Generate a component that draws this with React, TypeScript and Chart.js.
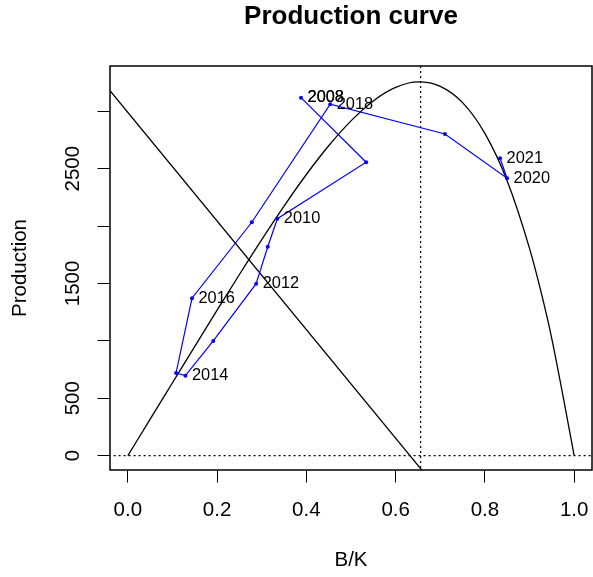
import React, { useEffect, useRef } from "react";
import { Chart, registerables } from "chart.js";

Chart.register(...registerables);

// ---- data ----
const years = [2008, 2009, 2010, 2011, 2012, 2013, 2014, 2015, 2016, 2017, 2018, 2019, 2020, 2021];
const bkValues = [0.388, 0.534, 0.335, 0.3135, 0.2875, 0.1914, 0.129, 0.108, 0.1437, 0.2777, 0.4535, 0.7105, 0.8497, 0.834];
const prodValues = [3118, 2556, 2064, 1820, 1498, 999, 697, 720, 1371, 2033, 3061, 2802, 2416, 2591];

const curveBK = [0, 0.05, 0.1, 0.15, 0.2, 0.25, 0.3, 0.35, 0.4, 0.45, 0.5, 0.55, 0.6, 0.65, 0.7, 0.75, 0.8, 0.85, 0.9, 0.925, 0.95, 0.975, 1.0];
const curveProd = [0, 318, 635, 952, 1267, 1578, 1882, 2174, 2449, 2699, 2916, 3090, 3207, 3255, 3217, 3075, 2807, 2393, 1806, 1439, 1018, 520, 0];

const refLineBK = [-0.04, 0.7];
const refLineProd = [3179, -321];

const bmsyBK = 0.656;

const xTicks = [0, 0.2, 0.4, 0.6, 0.8, 1.0];
const yTicks = [0, 500, 1000, 1500, 2000, 2500, 3000];
const yTickLabels = [0, 500, 1500, 2500];

const FONT = "'Liberation Sans', Arial, Helvetica, sans-serif";
const BASE = 20.5;

export default function App() {
  const ref = useRef<HTMLCanvasElement | null>(null);

  useEffect(() => {
    const canvas = ref.current;
    if (!canvas) return;

    const pts = bkValues.map((x, i) => ({ x, y: prodValues[i] }));
    const curve = curveBK.map((x, i) => ({ x, y: curveProd[i] }));
    const refLine = refLineBK.map((x, i) => ({ x, y: refLineProd[i] }));
    const hLine = [{ x: -0.2, y: 0 }, { x: 1.2, y: 0 }];
    const vLine = [{ x: bmsyBK, y: -500 }, { x: bmsyBK, y: 4000 }];

    const n = years.length;
    const labelIdx: number[] = [0];
    for (let i = 0; i < n; i += 2) labelIdx.push(i);
    labelIdx.push(n - 1);

    const framePlugin = {
      id: "frame",
      afterDatasetsDraw(chart: any) {
        const { ctx, chartArea } = chart;
        ctx.save();
        ctx.strokeStyle = "#000";
        ctx.lineWidth = 1.5;
        ctx.strokeRect(chartArea.left, chartArea.top, chartArea.right - chartArea.left, chartArea.bottom - chartArea.top);
        ctx.restore();
      },
    };

    const yearLabelPlugin = {
      id: "yearLabels",
      afterDatasetsDraw(chart: any) {
        const meta = chart.getDatasetMeta(0);
        const ctx = chart.ctx;
        ctx.save();
        ctx.font = `${BASE * 0.8}px ${FONT}`;
        ctx.fillStyle = "#000";
        ctx.textAlign = "left";
        ctx.textBaseline = "middle";
        labelIdx.forEach((i) => {
          const el = meta.data[i];
          if (!el) return;
          ctx.fillText(String(years[i]), el.x + 6.5, el.y);
        });
        ctx.restore();
      },
    };

    const chart = new Chart(canvas, {
      type: "scatter",
      data: {
        datasets: [
          {
            data: pts,
            showLine: true,
            borderColor: "#0000ff",
            borderWidth: 1.2,
            pointRadius: 2,
            pointBackgroundColor: "#0000ff",
            pointBorderColor: "#0000ff",
            pointBorderWidth: 0,
            clip: 0,
          },
          {
            data: curve,
            showLine: true,
            borderColor: "#000",
            borderWidth: 1.3,
            pointRadius: 0,
            cubicInterpolationMode: "monotone",
            clip: 0,
          },
          {
            data: refLine,
            showLine: true,
            borderColor: "#000",
            borderWidth: 1.3,
            pointRadius: 0,
            clip: 0,
          },
          {
            data: hLine,
            showLine: true,
            borderColor: "#000",
            borderWidth: 1.2,
            borderDash: [2, 3],
            pointRadius: 0,
            clip: 0,
          },
          {
            data: vLine,
            showLine: true,
            borderColor: "#000",
            borderWidth: 1.2,
            borderDash: [2, 3],
            pointRadius: 0,
            clip: 0,
          },
        ] as any,
      },
      options: {
        animation: false,
        responsive: false,
        devicePixelRatio: 1,
        events: [],
        layout: { autoPadding: false, padding: { left: 0, right: 1, top: 0, bottom: 0 } },
        plugins: {
          legend: { display: false },
          tooltip: { enabled: false },
          title: {
            display: true,
            text: "Production curve",
            fullSize: false,
            color: "#000",
            font: { family: FONT, size: 26, weight: "bold" },
            padding: { top: 1.5, bottom: 33.3 },
          },
        },
        scales: {
          x: {
            type: "linear",
            position: "bottom",
            min: -0.04,
            max: 1.04,
            afterBuildTicks: (s: any) => {
              s.ticks = xTicks.map((v) => ({ value: v }));
            },
            afterFit: (s: any) => {
              s.height = 107;
              s.paddingLeft = 0;
              s.paddingRight = 0;
            },
            ticks: {
              color: "#000",
              font: { family: FONT, size: BASE, lineHeight: 2.761 },
              padding: 0,
              maxRotation: 0,
              minRotation: 0,
              callback: (v: any) => Number(v).toFixed(1),
            },
            grid: {
              display: true,
              drawOnChartArea: false,
              drawTicks: true,
              tickLength: 12.5,
              color: "#000",
              lineWidth: 1,
            },
            border: { display: false },
            title: {
              display: true,
              text: "B/K",
              color: "#000",
              font: { family: FONT, size: BASE },
              padding: { top: 0, bottom: 4.2 },
            },
          },
          y: {
            type: "linear",
            position: "left",
            min: -125,
            max: 3394,
            afterBuildTicks: (s: any) => {
              s.ticks = yTicks.map((v) => ({ value: v }));
            },
            afterFit: (s: any) => {
              s.width = 110;
              s.paddingTop = 0;
              s.paddingBottom = 0;
            },
            ticks: {
              autoSkip: false,
              color: "#000",
              font: { family: FONT, size: BASE },
              padding: 1,
              minRotation: 90,
              maxRotation: 90,
              crossAlign: "center",
              callback: (v: any) => (yTickLabels.includes(Number(v)) ? String(v) : ""),
            },
            grid: {
              display: true,
              drawOnChartArea: false,
              drawTicks: true,
              tickLength: 12.5,
              color: "#000",
              lineWidth: 1,
            },
            border: { display: false },
            title: {
              display: true,
              text: "Production",
              color: "#000",
              font: { family: FONT, size: BASE },
              padding: { top: 8.2, bottom: 0 },
            },
          },
        },
      } as any,
      plugins: [framePlugin, yearLabelPlugin],
    });

    return () => chart.destroy();
  }, []);

  return (
    <div style={{ position: "fixed", left: 0, top: 0, width: 593, height: 577, background: "#fff" }}>
      <canvas ref={ref} width={593} height={577} style={{ width: 593, height: 577, display: "block" }} />
    </div>
  );
}
